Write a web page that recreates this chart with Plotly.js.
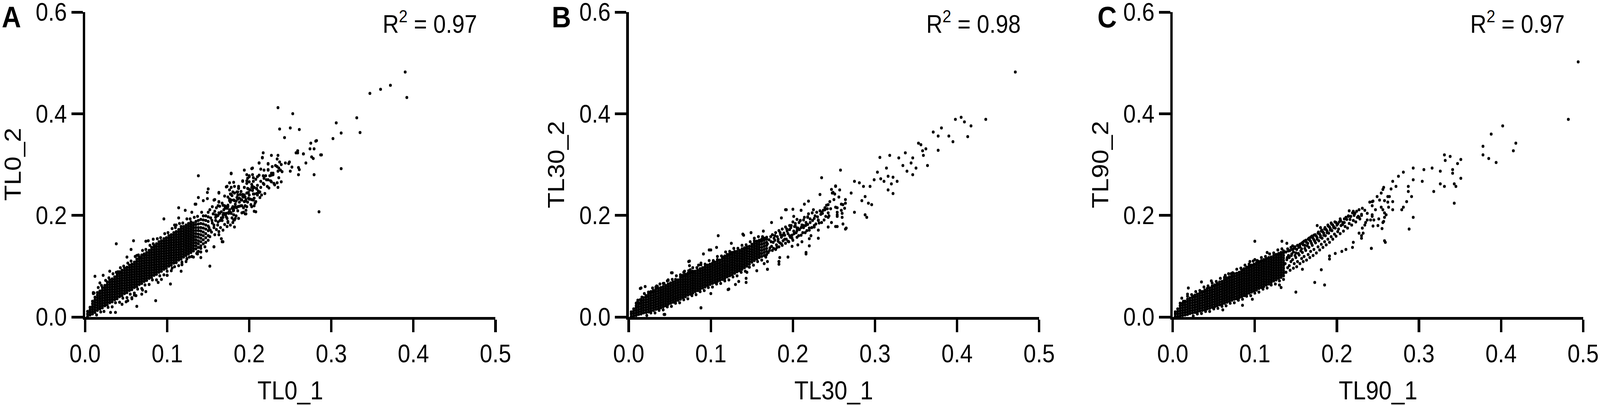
<!DOCTYPE html>
<html>
<head>
<meta charset="utf-8">
<script src="https://cdn.plot.ly/plotly-3.0.1.min.js"></script>
<style>html,body{margin:0;padding:0;background:#fff;overflow:hidden;}#chart{width:4550px;height:1040px;transform-origin:0 0;}</style>
</head>
<body>
<div id="chart"></div>
<script>
// ---------------- Panel A : TL0_1 vs TL0_2 ----------------
// dense core, read column by column (x = TL0_1, y lists = TL0_2)
const tl0_1_cols = [0.003,0.006,0.009,0.012,0.015,0.018,0.021,0.024,0.027,0.030,
0.033,0.036,0.039,0.042,0.045,0.048,0.051,0.054,0.057,0.060,
0.063,0.066,0.069,0.072,0.075,0.078,0.081,0.084,0.087,0.090,
0.093,0.096,0.099,0.102,0.105,0.108,0.111,0.114,0.117,0.120,
0.123,0.126,0.129,0.132,0.135,0.138,0.141,0.144,0.147,0.150];
const tl0_2_cols = [
[0.001,0.006,0.011],
[0.004,0.009,0.014,0.019],
[0.006,0.011,0.016,0.021,0.026,0.031],
[0.009,0.014,0.019,0.024,0.029,0.034,0.039],
[0.013,0.018,0.023,0.028,0.033,0.038,0.043,0.048],
[0.016,0.021,0.026,0.031,0.036,0.041,0.046,0.051],
[0.018,0.023,0.028,0.033,0.038,0.043,0.048,0.053,0.058],
[0.022,0.027,0.032,0.037,0.042,0.047,0.052,0.057,0.062],
[0.024,0.029,0.034,0.039,0.044,0.049,0.054,0.059,0.064,0.069],
[0.028,0.033,0.038,0.043,0.048,0.053,0.058,0.063,0.068,0.073],
[0.030,0.035,0.040,0.045,0.050,0.055,0.060,0.065,0.070,0.075],
[0.034,0.039,0.044,0.049,0.054,0.059,0.064,0.069,0.074,0.079],
[0.036,0.041,0.046,0.051,0.056,0.061,0.066,0.071,0.076,0.081,0.085],
[0.040,0.045,0.050,0.055,0.060,0.065,0.070,0.075,0.080,0.085,0.089],
[0.042,0.047,0.052,0.057,0.062,0.067,0.072,0.077,0.082,0.087,0.092],
[0.046,0.051,0.056,0.061,0.066,0.071,0.076,0.081,0.086,0.091,0.096],
[0.048,0.053,0.058,0.063,0.068,0.073,0.078,0.083,0.088,0.093,0.098],
[0.052,0.057,0.062,0.067,0.072,0.077,0.082,0.087,0.092,0.097,0.102],
[0.054,0.059,0.064,0.069,0.074,0.079,0.084,0.089,0.094,0.099,0.104],
[0.058,0.063,0.068,0.073,0.078,0.083,0.088,0.093,0.098,0.103,0.108],
[0.060,0.065,0.070,0.075,0.080,0.085,0.090,0.095,0.100,0.105,0.110,0.114],
[0.064,0.069,0.074,0.079,0.084,0.089,0.094,0.099,0.104,0.109,0.114,0.118],
[0.066,0.071,0.076,0.081,0.086,0.091,0.096,0.101,0.106,0.111,0.116,0.121],
[0.070,0.075,0.080,0.085,0.090,0.095,0.100,0.105,0.110,0.115,0.120,0.124],
[0.072,0.077,0.082,0.087,0.092,0.097,0.102,0.107,0.112,0.117,0.122,0.127],
[0.076,0.081,0.086,0.091,0.096,0.101,0.106,0.111,0.116,0.121,0.126,0.131],
[0.078,0.083,0.088,0.093,0.098,0.103,0.108,0.113,0.118,0.123,0.128,0.133,0.137],
[0.082,0.087,0.092,0.097,0.102,0.107,0.112,0.117,0.122,0.127,0.132,0.137,0.141],
[0.084,0.089,0.094,0.099,0.104,0.109,0.114,0.119,0.124,0.129,0.134,0.139,0.144],
[0.088,0.093,0.098,0.103,0.108,0.113,0.118,0.123,0.128,0.133,0.138,0.143,0.148],
[0.090,0.095,0.100,0.105,0.110,0.115,0.120,0.125,0.130,0.135,0.140,0.145,0.150],
[0.094,0.099,0.104,0.109,0.114,0.119,0.124,0.129,0.134,0.139,0.144,0.149,0.154],
[0.096,0.101,0.106,0.111,0.116,0.121,0.126,0.131,0.136,0.141,0.146,0.151,0.156],
[0.100,0.105,0.110,0.115,0.120,0.125,0.130,0.135,0.140,0.145,0.150,0.155,0.160],
[0.102,0.107,0.112,0.117,0.122,0.127,0.132,0.137,0.142,0.147,0.152,0.157,0.162],
[0.106,0.111,0.116,0.121,0.126,0.131,0.136,0.141,0.146,0.151,0.156,0.161,0.166],
[0.108,0.113,0.118,0.123,0.128,0.133,0.138,0.143,0.148,0.153,0.158,0.163,0.168],
[0.112,0.117,0.122,0.127,0.132,0.137,0.142,0.147,0.152,0.157,0.162,0.167,0.172],
[0.114,0.119,0.124,0.129,0.134,0.139,0.144,0.149,0.154,0.159,0.164,0.169,0.174,0.178],
[0.118,0.123,0.128,0.133,0.138,0.143,0.148,0.153,0.158,0.163,0.168,0.173,0.178],
[0.121,0.126,0.131,0.136,0.141,0.146,0.151,0.156,0.161,0.166,0.171,0.176,0.181],
[0.124,0.129,0.134,0.139,0.144,0.149,0.154,0.159,0.164,0.169,0.174,0.179,0.184],
[0.127,0.132,0.137,0.142,0.147,0.152,0.157,0.162,0.167,0.172,0.177,0.182,0.187],
[0.130,0.135,0.140,0.145,0.150,0.155,0.160,0.165,0.170,0.175,0.180,0.185],
[0.134,0.140,0.146,0.152,0.158,0.164,0.170,0.176,0.182,0.188],
[0.137,0.144,0.150,0.157,0.163,0.170,0.176,0.183,0.190],
[0.140,0.148,0.155,0.162,0.169,0.176,0.184,0.192],
[0.144,0.152,0.160,0.167,0.175,0.183,0.191,0.199],
[0.147,0.156,0.164,0.173,0.181,0.190,0.199],
[0.151,0.160,0.170,0.179,0.188,0.197,0.206]];
// looser middle of the cloud (paired points)
const tl0_1_mid = [0.152,0.154,0.151,0.155,0.153,0.156,0.152,0.158,0.160,0.157,0.159,0.161,0.158,0.160,0.163,0.165,0.162,0.166,0.163,0.164,
0.167,0.168,0.170,0.167,0.171,0.169,0.170,0.173,0.174,0.172,0.175,0.173,0.176,0.174,0.177,0.179,0.178,0.180,0.177,0.179,
0.182,0.184,0.181,0.183,0.185,0.182,0.187,0.186,0.188,0.186,0.189,0.187,0.191,0.193,0.190,0.192,0.194,0.196,0.198,0.195,
0.199,0.197,0.202,0.201,0.204,0.203,0.207,0.209,0.206,0.208,0.213,0.211,0.214,0.212,0.219,0.217,0.220,0.224,0.226,0.223,
0.231,0.229,0.232,0.236,0.238];
const tl0_2_mid = [0.158,0.167,0.176,0.185,0.195,0.203,0.211,0.162,0.172,0.181,0.190,0.199,0.208,0.215,0.168,0.176,0.187,0.195,0.205,0.218,
0.224,0.171,0.182,0.190,0.201,0.211,0.219,0.178,0.186,0.197,0.206,0.214,0.229,0.236,0.181,0.195,0.204,0.217,0.226,0.239,
0.191,0.199,0.213,0.222,0.235,0.244,0.194,0.209,0.218,0.233,0.241,0.257,0.205,0.215,0.231,0.241,0.255,0.210,0.226,0.236,
0.252,0.263,0.221,0.232,0.249,0.261,0.224,0.243,0.255,0.271,0.235,0.248,0.267,0.279,0.243,0.263,0.278,0.254,0.268,0.289,
0.260,0.283,0.298,0.274,0.289];
// fringe of the cloud and extra middle points (paired)
const tl0_1_edge = [0.011,0.016,0.020,0.025,0.029,0.034,0.038,0.043,0.047,0.052,0.056,0.061,0.065,0.070,0.074,0.079,0.083,0.088,0.092,0.097,
0.101,0.106,0.110,0.115,0.119,0.124,0.128,0.133,0.137,0.142,
0.014,0.019,0.023,0.028,0.033,0.037,0.042,0.046,0.051,0.055,0.060,0.064,0.069,0.073,0.078,0.082,0.087,0.091,0.096,0.100,
0.105,0.109,0.114,0.118,0.123,0.127,0.132,0.137,0.141,0.146,
0.1525,0.1545,0.157,0.159,0.1615,0.162,0.1645,0.166,0.168,0.1705,0.172,0.174,0.176,0.178,0.1805,0.182,0.1845,0.186,0.188,0.190,
0.193,0.195,0.197,0.200,0.203,0.206,0.210,0.214,0.221,0.227];
const tl0_2_edge = [0.047,0.058,0.062,0.072,0.077,0.085,0.088,0.097,0.100,0.106,0.110,0.119,0.122,0.131,0.133,0.141,0.144,0.154,0.156,0.164,
0.166,0.174,0.176,0.184,0.185,0.193,0.193,0.196,0.198,0.206,
0.004,0.010,0.011,0.019,0.020,0.028,0.029,0.037,0.038,0.045,0.047,0.055,0.056,0.063,0.064,0.073,0.073,0.081,0.083,0.090,
0.091,0.099,0.101,0.108,0.109,0.118,0.118,0.128,0.128,0.138,
0.171,0.190,0.176,0.196,0.181,0.200,0.190,0.207,0.196,0.214,0.204,0.220,0.211,0.230,0.209,0.229,0.215,0.240,0.226,0.247,
0.236,0.219,0.244,0.240,0.255,0.234,0.259,0.255,0.270,0.279];
// single readable points
const tl0_1_pts = [0.390,0.372,0.360,0.347,0.392,0.331,0.335,0.306,0.312,0.302,0.312,0.285,0.235,0.253,0.237,0.250,0.261,0.243,0.282,0.275,
0.274,0.279,0.288,0.276,0.278,0.269,0.259,0.259,0.266,0.279,0.261,0.260,0.250,0.252,0.244,0.249,0.217,0.216,0.227,0.235,
0.234,0.237,0.239,0.212,0.223,0.228,0.234,0.214,0.218,0.223,0.236,0.235,0.240,0.227,0.229,0.225,0.217,0.218,0.223,0.227,
0.230,0.234,0.218,0.222,0.235,0.239,0.210,0.194,0.203,0.178,0.197,0.200,0.204,0.192,0.198,0.200,0.205,0.176,0.181,0.173,
0.178,0.182,0.187,0.194,0.198,0.204,0.209,0.163,0.170,0.177,0.180,0.186,0.194,0.199,0.205,0.210,0.215,0.213,0.176,0.181,
0.186,0.191,0.195,0.200,0.205,0.157,0.163,0.155,0.162,0.168,0.174,0.179,0.186,0.191,0.197,0.206,0.208,0.195,0.181,0.175,
0.168,0.164,0.159,0.173,0.181,0.138,0.178,0.212,0.216,0.223,0.204,0.200,0.205,0.192,0.197,0.172,0.163,0.150,0.149,0.149,
0.138,0.144,0.135,0.158,0.163,0.176,0.178,0.187,0.185,0.192,0.196,0.205,0.209,0.212,0.201,0.206,0.199,0.203,0.208,0.206,
0.203,0.194,0.190,0.196,0.193,0.183,0.181,0.177,0.183,0.182,0.180,0.174,0.169,0.172,0.184,0.188,0.168,0.166,0.163,0.157,
0.152,0.148,0.141,0.138,0.137,0.141,0.130,0.124,0.118,0.117,0.104,0.100,0.086,0.063,0.031,0.037,0.074,0.069,0.060,0.057,
0.052,0.038,0.012,0.022,0.030,0.010,0.018,0.040,0.051,0.056,0.059,0.074,0.077,0.083,0.063,0.069,0.096,0.109,0.111,0.114,
0.122,0.114,0.130,0.134,0.010,0.100,0.157,0.148,0.167,0.136,0.130,0.124,0.111,0.118,0.106,0.089,0.093,0.070,0.062,0.057,
0.050,0.045,0.248,0.260,0.287,0.281,0.257,0.266];
const tl0_2_pts = [0.482,0.456,0.448,0.440,0.432,0.392,0.363,0.382,0.362,0.351,0.292,0.207,0.412,0.400,0.370,0.372,0.369,0.353,0.347,0.342,
0.331,0.331,0.319,0.315,0.312,0.303,0.327,0.323,0.321,0.280,0.290,0.280,0.287,0.295,0.303,0.305,0.323,0.314,0.318,0.318,
0.311,0.305,0.300,0.303,0.301,0.296,0.296,0.291,0.289,0.290,0.293,0.287,0.286,0.283,0.280,0.278,0.278,0.273,0.270,0.266,
0.263,0.264,0.261,0.257,0.255,0.266,0.276,0.289,0.292,0.283,0.280,0.276,0.280,0.268,0.273,0.266,0.267,0.264,0.265,0.257,
0.255,0.257,0.253,0.255,0.253,0.257,0.253,0.245,0.238,0.242,0.246,0.246,0.240,0.245,0.242,0.240,0.240,0.246,0.232,0.230,
0.232,0.230,0.228,0.232,0.230,0.230,0.227,0.217,0.219,0.220,0.217,0.214,0.217,0.219,0.217,0.219,0.207,0.203,0.201,0.204,
0.201,0.204,0.201,0.194,0.191,0.278,0.282,0.303,0.313,0.302,0.293,0.278,0.274,0.267,0.268,0.256,0.244,0.252,0.245,0.233,
0.235,0.229,0.222,0.231,0.226,0.250,0.241,0.254,0.246,0.237,0.231,0.254,0.252,0.245,0.250,0.242,0.234,0.231,0.227,0.208,
0.217,0.227,0.219,0.203,0.206,0.217,0.210,0.206,0.194,0.177,0.186,0.188,0.204,0.217,0.228,0.234,0.148,0.154,0.162,0.138,
0.100,0.130,0.135,0.129,0.124,0.117,0.119,0.114,0.103,0.090,0.065,0.082,0.032,0.021,0.009,0.009,0.050,0.045,0.043,0.038,
0.032,0.144,0.080,0.082,0.090,0.048,0.067,0.089,0.118,0.133,0.150,0.149,0.150,0.153,0.121,0.122,0.193,0.181,0.181,0.215,
0.210,0.195,0.206,0.222,0.046,0.082,0.138,0.130,0.148,0.125,0.119,0.115,0.107,0.104,0.096,0.068,0.074,0.053,0.042,0.036,
0.030,0.025,0.302,0.294,0.319,0.346,0.323,0.321];

// ---------------- Panel B : TL30_1 vs TL30_2 ----------------
const tl30_1_cols = [0.003,0.006,0.009,0.012,0.015,0.018,0.021,0.024,0.027,0.030,
0.033,0.036,0.039,0.042,0.045,0.048,0.051,0.054,0.057,0.060,
0.063,0.066,0.069,0.072,0.075,0.078,0.081,0.084,0.087,0.090,
0.093,0.096,0.099,0.102,0.105,0.108,0.111,0.114,0.117,0.120,
0.123,0.126,0.129,0.132,0.135,0.138,0.141,0.144,0.147,0.150,
0.153,0.156,0.159,0.162,0.165,0.168];
const tl30_2_cols = [
[0.001,0.006,0.010],
[0.002,0.007,0.012,0.016],
[0.003,0.008,0.013,0.018,0.022],
[0.005,0.010,0.015,0.020,0.025,0.028],
[0.006,0.011,0.016,0.021,0.026,0.031,0.034],
[0.008,0.013,0.018,0.023,0.028,0.033,0.038],
[0.009,0.014,0.019,0.024,0.029,0.034,0.039,0.042],
[0.010,0.015,0.020,0.025,0.030,0.035,0.040,0.045],
[0.012,0.017,0.022,0.027,0.032,0.037,0.042,0.047,0.050],
[0.013,0.018,0.023,0.028,0.033,0.038,0.043,0.048,0.052],
[0.015,0.020,0.025,0.030,0.035,0.040,0.045,0.050,0.055],
[0.016,0.021,0.026,0.031,0.036,0.041,0.046,0.051,0.056],
[0.018,0.023,0.028,0.033,0.038,0.043,0.048,0.053,0.058],
[0.020,0.025,0.030,0.035,0.040,0.045,0.050,0.055,0.060],
[0.022,0.027,0.032,0.037,0.042,0.047,0.052,0.057,0.062],
[0.025,0.030,0.035,0.040,0.045,0.050,0.055,0.060,0.065],
[0.027,0.032,0.037,0.042,0.047,0.052,0.057,0.062,0.067],
[0.029,0.034,0.039,0.044,0.049,0.054,0.059,0.064,0.069],
[0.031,0.036,0.041,0.046,0.051,0.056,0.061,0.066,0.071,0.074],
[0.033,0.038,0.043,0.048,0.053,0.058,0.063,0.068,0.073],
[0.035,0.040,0.045,0.050,0.055,0.060,0.065,0.070,0.075,0.079],
[0.038,0.043,0.048,0.053,0.058,0.063,0.068,0.073,0.078,0.082],
[0.040,0.045,0.050,0.055,0.060,0.065,0.070,0.075,0.080,0.084],
[0.043,0.048,0.053,0.058,0.063,0.068,0.073,0.078,0.083,0.086],
[0.045,0.050,0.055,0.060,0.065,0.070,0.075,0.080,0.085,0.088],
[0.047,0.052,0.057,0.062,0.067,0.072,0.077,0.082,0.087,0.090],
[0.050,0.055,0.060,0.065,0.070,0.075,0.080,0.085,0.090],
[0.052,0.057,0.062,0.067,0.072,0.077,0.082,0.087,0.092],
[0.055,0.060,0.065,0.070,0.075,0.080,0.085,0.090,0.095],
[0.057,0.062,0.067,0.072,0.077,0.082,0.087,0.092,0.097],
[0.059,0.064,0.069,0.074,0.079,0.084,0.089,0.094,0.099],
[0.062,0.067,0.072,0.077,0.082,0.087,0.092,0.097,0.102],
[0.064,0.069,0.074,0.079,0.084,0.089,0.094,0.099,0.104],
[0.066,0.071,0.076,0.081,0.086,0.091,0.096,0.101,0.106],
[0.068,0.073,0.078,0.083,0.088,0.093,0.098,0.103,0.108],
[0.070,0.075,0.080,0.085,0.090,0.095,0.100,0.105,0.110,0.113],
[0.072,0.077,0.082,0.087,0.092,0.097,0.102,0.107,0.112],
[0.074,0.079,0.084,0.089,0.094,0.099,0.104,0.109,0.114,0.118],
[0.076,0.081,0.086,0.091,0.096,0.101,0.106,0.111,0.116,0.120],
[0.079,0.084,0.089,0.094,0.099,0.104,0.109,0.114,0.119,0.123],
[0.081,0.086,0.091,0.096,0.101,0.106,0.111,0.116,0.121,0.125],
[0.083,0.088,0.093,0.098,0.103,0.108,0.113,0.118,0.123,0.127],
[0.086,0.091,0.096,0.101,0.106,0.111,0.116,0.121,0.126,0.129],
[0.089,0.094,0.099,0.104,0.109,0.114,0.119,0.124,0.129],
[0.091,0.096,0.101,0.106,0.111,0.116,0.121,0.126,0.131],
[0.094,0.099,0.104,0.109,0.114,0.119,0.124,0.129,0.134],
[0.097,0.102,0.107,0.112,0.117,0.122,0.127,0.132,0.136],
[0.100,0.105,0.110,0.115,0.120,0.125,0.130,0.135,0.138],
[0.104,0.109,0.114,0.119,0.124,0.129,0.134,0.139],
[0.108,0.113,0.118,0.123,0.128,0.133,0.138,0.143],
[0.111,0.116,0.121,0.126,0.131,0.136,0.141,0.146],
[0.114,0.119,0.124,0.129,0.134,0.139,0.144,0.149],
[0.117,0.122,0.127,0.132,0.137,0.142,0.147,0.151],
[0.119,0.125,0.131,0.137,0.143,0.149,0.153],
[0.121,0.127,0.133,0.139,0.145,0.151,0.155],
[0.123,0.129,0.135,0.141,0.147,0.153,0.157]];
const tl30_1_mid = [0.170,0.172,0.169,0.171,0.173,0.175,0.174,0.176,0.177,0.175,0.179,0.180,0.178,0.181,0.179,0.183,0.184,0.182,0.185,0.183,
0.187,0.188,0.186,0.189,0.187,0.191,0.192,0.190,0.193,0.191,0.195,0.197,0.194,0.196,0.198,0.200,0.199,0.201,0.202,0.200,
0.205,0.204,0.206,0.203,0.205,0.210,0.208,0.211,0.209,0.215,0.213,0.216,0.214,0.220,0.218,0.221,0.219,0.226,0.224,0.227,
0.225,0.232,0.230,0.233,0.238,0.236,0.239,0.244,0.242,0.245];
const tl30_2_mid = [0.127,0.136,0.144,0.152,0.158,0.131,0.139,0.147,0.155,0.162,0.133,0.142,0.151,0.158,0.166,0.138,0.146,0.153,0.162,0.170,
0.141,0.150,0.157,0.165,0.173,0.145,0.153,0.161,0.169,0.177,0.148,0.157,0.164,0.172,0.180,0.151,0.161,0.169,0.178,0.187,
0.157,0.166,0.175,0.184,0.192,0.161,0.172,0.181,0.190,0.166,0.176,0.186,0.196,0.171,0.182,0.193,0.203,0.177,0.190,0.199,
0.211,0.185,0.197,0.209,0.191,0.204,0.215,0.199,0.213,0.227];
const tl30_1_edge = [0.010,0.014,0.019,0.024,0.029,0.033,0.038,0.043,0.048,0.053,0.058,0.063,0.068,0.073,0.078,0.083,0.088,0.093,0.098,0.103,
0.108,0.113,0.118,0.123,0.128,0.133,0.138,0.143,0.148,0.153,0.158,0.163,
0.022,0.027,0.032,0.037,0.042,0.047,0.052,0.057,0.062,0.067,0.072,0.077,0.082,0.087,0.092,0.097,0.102,0.107,0.112,0.117,
0.122,0.127,0.132,0.137,0.142,0.147,0.152,0.157,0.162,0.167,
0.1715,0.1735,0.1765,0.178,0.1805,0.182,0.1845,0.186,0.188,0.190,0.1925,0.194,0.196,0.1975,0.199,0.2015,0.203,0.205,0.207,0.2075,
0.210,0.212,0.213,0.2155,0.217,0.218,0.221,0.223,0.2235,0.226,0.228,0.229,0.231,0.234,0.235,0.237,0.240,0.241,0.243,0.246];
const tl30_2_edge = [0.028,0.034,0.046,0.049,0.057,0.059,0.065,0.066,0.073,0.074,0.081,0.083,0.090,0.091,0.097,0.097,0.103,0.104,0.111,0.111,
0.119,0.120,0.128,0.129,0.135,0.135,0.141,0.142,0.148,0.150,0.158,0.158,
0.003,0.008,0.008,0.013,0.014,0.020,0.021,0.027,0.028,0.034,0.036,0.042,0.044,0.050,0.052,0.058,0.059,0.065,0.066,0.071,
0.073,0.079,0.081,0.088,0.090,0.098,0.102,0.109,0.112,0.118,
0.131,0.148,0.135,0.160,0.137,0.149,0.166,0.144,0.161,0.153,0.173,0.149,0.160,0.176,0.155,0.164,0.179,0.170,0.160,0.186,
0.176,0.166,0.191,0.180,0.170,0.197,0.186,0.176,0.205,0.194,0.183,0.206,0.191,0.202,0.186,0.210,0.198,0.220,0.205,0.213];
const tl30_1_pts = [0.471,0.435,0.398,0.405,0.409,0.417,0.413,0.395,0.381,0.371,0.377,0.390,0.377,0.353,0.356,0.362,0.358,0.364,0.359,0.306,
0.318,0.329,0.337,0.346,0.344,0.350,0.339,0.346,0.334,0.303,0.314,0.316,0.322,0.311,0.320,0.327,0.316,0.322,0.307,0.299,
0.294,0.288,0.292,0.284,0.275,0.281,0.286,0.271,0.264,0.261,0.275,0.296,0.288,0.290,0.235,0.258,0.252,0.248,0.250,0.256,
0.243,0.252,0.263,0.254,0.265,0.252,0.243,0.239,0.235,0.231,0.226,0.220,0.231,0.213,0.218,0.192,0.201,0.209,0.205,0.196,
0.216,0.183,0.169,0.143,0.122,0.088,0.043,0.109,0.139,0.052,0.015,0.098,0.073,0.047,0.034,0.140,0.149,0.191,0.200,0.210,
0.214,0.219,0.252,0.247,0.233,0.174,0.186,0.164,0.153,0.125,0.107,0.100,0.091,0.074,0.074,0.075,0.085,0.088,0.067,0.053,
0.048,0.042,0.035,0.027,0.020,0.014,0.016,0.011,0.009,0.088,0.044,0.121,0.100,0.130,0.134,0.143,0.144,0.156,0.169,0.165,
0.169,0.183,0.183,0.184,0.194,0.199,0.206,0.211,0.216,0.220,0.231,0.220,0.222,0.243,0.247,0.254,0.261,0.264,0.260,0.260,
0.259,0.254,0.254,0.259,0.264,0.254,0.251,0.249,0.257];
const tl30_2_pts = [0.482,0.389,0.389,0.393,0.384,0.376,0.355,0.345,0.372,0.364,0.356,0.356,0.328,0.342,0.339,0.331,0.327,0.298,0.318,0.314,
0.318,0.313,0.323,0.313,0.303,0.293,0.287,0.280,0.298,0.285,0.293,0.277,0.275,0.267,0.262,0.267,0.250,0.243,0.272,0.270,
0.257,0.237,0.224,0.229,0.267,0.264,0.257,0.244,0.231,0.221,0.206,0.221,0.201,0.196,0.274,0.289,0.257,0.244,0.231,0.236,
0.221,0.216,0.214,0.201,0.175,0.178,0.196,0.211,0.206,0.190,0.180,0.175,0.171,0.180,0.196,0.211,0.198,0.190,0.175,0.180,
0.127,0.109,0.094,0.068,0.055,0.018,0.005,0.160,0.163,0.087,0.057,0.132,0.109,0.071,0.061,0.161,0.166,0.211,0.212,0.210,
0.222,0.228,0.258,0.251,0.241,0.186,0.195,0.169,0.155,0.145,0.137,0.132,0.124,0.110,0.101,0.093,0.102,0.106,0.088,0.087,
0.072,0.066,0.060,0.048,0.060,0.056,0.039,0.033,0.027,0.018,0.005,0.054,0.046,0.064,0.070,0.076,0.088,0.091,0.094,0.105,
0.109,0.104,0.109,0.117,0.118,0.139,0.142,0.148,0.124,0.140,0.155,0.154,0.160,0.177,0.186,0.178,0.183,0.173,0.196,0.204,
0.210,0.206,0.198,0.222,0.224,0.215,0.242,0.245,0.250];

// ---------------- Panel C : TL90_1 vs TL90_2 ----------------
const tl90_1_cols = [0.003,0.006,0.009,0.012,0.015,0.018,0.021,0.024,0.027,0.030,
0.033,0.036,0.039,0.042,0.045,0.048,0.051,0.054,0.057,0.060,
0.063,0.066,0.069,0.072,0.075,0.078,0.081,0.084,0.087,0.090,
0.093,0.096,0.099,0.102,0.105,0.108,0.111,0.114,0.117,0.120,
0.123,0.126,0.129,0.132,0.135];
const tl90_2_cols = [
[0.001,0.006,0.010],
[0.001,0.006,0.011,0.016],
[0.002,0.007,0.012,0.017,0.022],
[0.003,0.008,0.013,0.018,0.023,0.027],
[0.004,0.009,0.014,0.019,0.024,0.029,0.031],
[0.005,0.010,0.015,0.020,0.025,0.030,0.035],
[0.007,0.012,0.017,0.022,0.027,0.032,0.037],
[0.008,0.013,0.018,0.023,0.028,0.033,0.038,0.041],
[0.009,0.014,0.019,0.024,0.029,0.034,0.039,0.043],
[0.010,0.015,0.020,0.025,0.030,0.035,0.040,0.045],
[0.012,0.017,0.022,0.027,0.032,0.037,0.042,0.047],
[0.013,0.018,0.023,0.028,0.033,0.038,0.043,0.048,0.050],
[0.014,0.019,0.024,0.029,0.034,0.039,0.044,0.049,0.053],
[0.016,0.021,0.026,0.031,0.036,0.041,0.046,0.051,0.056],
[0.017,0.022,0.027,0.032,0.037,0.042,0.047,0.052,0.057],
[0.019,0.024,0.029,0.034,0.039,0.044,0.049,0.054,0.059,0.061],
[0.020,0.025,0.030,0.035,0.040,0.045,0.050,0.055,0.060,0.063],
[0.022,0.027,0.032,0.037,0.042,0.047,0.052,0.057,0.062,0.066],
[0.024,0.029,0.034,0.039,0.044,0.049,0.054,0.059,0.064,0.069],
[0.025,0.030,0.035,0.040,0.045,0.050,0.055,0.060,0.065,0.070],
[0.027,0.032,0.037,0.042,0.047,0.052,0.057,0.062,0.067,0.072,0.074],
[0.029,0.034,0.039,0.044,0.049,0.054,0.059,0.064,0.069,0.074,0.077],
[0.031,0.036,0.041,0.046,0.051,0.056,0.061,0.066,0.071,0.076,0.079],
[0.033,0.038,0.043,0.048,0.053,0.058,0.063,0.068,0.073,0.078,0.082],
[0.035,0.040,0.045,0.050,0.055,0.060,0.065,0.070,0.075,0.080,0.085],
[0.036,0.041,0.046,0.051,0.056,0.061,0.066,0.071,0.076,0.081,0.086],
[0.038,0.043,0.048,0.053,0.058,0.063,0.068,0.073,0.078,0.083,0.088],
[0.040,0.045,0.050,0.055,0.060,0.065,0.070,0.075,0.080,0.085,0.090,0.093],
[0.042,0.047,0.052,0.057,0.062,0.067,0.072,0.077,0.082,0.087,0.092,0.095],
[0.045,0.050,0.055,0.060,0.065,0.070,0.075,0.080,0.085,0.090,0.095,0.098],
[0.047,0.052,0.057,0.062,0.067,0.072,0.077,0.082,0.087,0.092,0.097,0.100],
[0.049,0.054,0.059,0.064,0.069,0.074,0.079,0.084,0.089,0.094,0.099,0.102],
[0.051,0.056,0.061,0.066,0.071,0.076,0.081,0.086,0.091,0.096,0.101,0.104],
[0.053,0.058,0.063,0.068,0.073,0.078,0.083,0.088,0.093,0.098,0.103,0.107],
[0.056,0.061,0.066,0.071,0.076,0.081,0.086,0.091,0.096,0.101,0.106,0.109],
[0.058,0.063,0.068,0.073,0.078,0.083,0.088,0.093,0.098,0.103,0.108,0.111],
[0.060,0.065,0.070,0.075,0.080,0.085,0.090,0.095,0.100,0.105,0.110,0.113],
[0.063,0.068,0.073,0.078,0.083,0.088,0.093,0.098,0.103,0.108,0.113,0.115],
[0.065,0.070,0.075,0.080,0.085,0.090,0.095,0.100,0.105,0.110,0.115,0.117],
[0.068,0.073,0.078,0.083,0.088,0.093,0.098,0.103,0.108,0.113,0.118],
[0.071,0.076,0.081,0.086,0.091,0.096,0.101,0.106,0.111,0.116,0.121],
[0.073,0.078,0.083,0.088,0.093,0.098,0.103,0.108,0.113,0.118,0.123],
[0.076,0.081,0.086,0.091,0.096,0.101,0.106,0.111,0.116,0.121,0.125],
[0.078,0.083,0.088,0.093,0.098,0.103,0.108,0.113,0.118,0.123,0.127],
[0.081,0.086,0.091,0.096,0.101,0.106,0.111,0.116,0.121,0.126,0.130]];
const tl90_1_mid = [0.138,0.140,0.137,0.139,0.141,0.138,0.140,0.143,0.142,0.144,0.142,0.145,0.143,0.144,0.147,0.148,0.146,0.149,0.147,0.148,
0.146,0.151,0.152,0.150,0.153,0.151,0.152,0.155,0.157,0.154,0.156,0.155,0.157,0.159,0.160,0.158,0.161,0.159,0.160,0.163,
0.165,0.162,0.164,0.163,0.165,0.167,0.168,0.166,0.169,0.167,0.168,0.171,0.172,0.170,0.173,0.171,0.172,0.175,0.177,0.174,
0.176,0.175,0.177,0.179,0.181,0.178,0.180,0.179,0.181,0.183,0.185,0.182,0.184,0.183,0.185,0.187,0.189,0.186,0.188,0.187,
0.191,0.193,0.190,0.192,0.191,0.195,0.197,0.194,0.196,0.195,0.199,0.201,0.198,0.200,0.199,0.204,0.202,0.205,0.203,0.208,
0.210,0.207,0.209,0.213,0.215,0.212,0.214,0.218,0.220,0.217,0.219,0.223,0.225,0.222,0.228,0.230,0.227];
const tl90_2_mid = [0.088,0.097,0.105,0.113,0.121,0.128,0.134,0.092,0.101,0.109,0.117,0.124,0.131,0.137,0.096,0.105,0.113,0.121,0.128,0.135,
0.140,0.099,0.109,0.117,0.125,0.133,0.141,0.105,0.115,0.122,0.130,0.138,0.145,0.109,0.119,0.127,0.135,0.142,0.149,0.112,
0.123,0.131,0.140,0.147,0.153,0.117,0.129,0.137,0.145,0.151,0.157,0.121,0.133,0.141,0.149,0.155,0.161,0.126,0.138,0.146,
0.153,0.159,0.165,0.132,0.143,0.150,0.157,0.163,0.169,0.137,0.148,0.155,0.161,0.167,0.173,0.142,0.153,0.160,0.166,0.172,
0.147,0.158,0.165,0.171,0.177,0.153,0.163,0.170,0.176,0.181,0.159,0.168,0.175,0.181,0.186,0.164,0.173,0.180,0.187,0.169,
0.178,0.186,0.193,0.175,0.184,0.192,0.199,0.181,0.190,0.198,0.205,0.187,0.196,0.204,0.193,0.202,0.211];
const tl90_1_edge = [0.009,0.013,0.018,0.023,0.028,0.033,0.038,0.043,0.048,0.053,0.058,0.063,0.068,0.073,0.078,0.083,0.088,0.093,0.098,0.103,
0.108,0.113,0.118,0.123,0.128,0.133,
0.025,0.030,0.035,0.040,0.045,0.050,0.055,0.060,0.065,0.070,0.075,0.080,0.085,0.090,0.095,0.100,0.105,0.110,0.115,0.120,
0.125,0.130,0.135,
0.1395,0.141,0.1445,0.146,0.149,0.150,0.1535,0.155,0.157,0.1585,0.161,0.162,0.1645,0.166,0.168,0.1695,0.172,0.1735,0.176,0.1775,
0.180,0.1815,0.184,0.1855,0.188,0.1895,0.192,0.1935,0.196,0.1975,0.201,0.2045,0.207,0.211,0.216,0.221];
const tl90_2_edge = [0.027,0.031,0.041,0.044,0.050,0.052,0.059,0.061,0.067,0.070,0.076,0.078,0.085,0.087,0.094,0.096,0.102,0.104,0.110,0.111,
0.117,0.119,0.124,0.126,0.132,0.134,
0.002,0.006,0.007,0.011,0.011,0.016,0.017,0.021,0.022,0.027,0.028,0.033,0.035,0.041,0.042,0.047,0.049,0.055,0.057,0.063,
0.065,0.071,0.074,
0.117,0.130,0.121,0.133,0.138,0.126,0.137,0.143,0.134,0.147,0.141,0.151,0.145,0.155,0.149,0.159,0.152,0.162,0.156,0.167,
0.160,0.171,0.165,0.176,0.169,0.179,0.174,0.183,0.178,0.187,0.183,0.190,0.182,0.196,0.192,0.200];
const tl90_1_pts = [0.494,0.482,0.402,0.388,0.418,0.415,0.378,0.378,0.385,0.394,0.331,0.338,0.332,0.351,0.347,0.316,0.326,0.341,0.341,0.351,
0.331,0.343,0.345,0.306,0.304,0.293,0.287,0.318,0.326,0.293,0.343,0.281,0.275,0.293,0.288,0.258,0.242,0.287,0.291,0.285,
0.281,0.279,0.268,0.266,0.272,0.262,0.268,0.254,0.258,0.254,0.243,0.247,0.268,0.260,0.256,0.243,0.235,0.231,0.227,0.250,
0.237,0.227,0.100,0.133,0.139,0.115,0.083,0.064,0.071,0.047,0.035,0.019,0.018,0.011,0.094,0.100,0.061,0.085,0.097,0.150,
0.173,0.185,0.132,0.130,0.158,0.181,0.191,0.191,0.198,0.206,0.211,0.219,0.220,0.230,0.230,0.232,0.242,0.259,0.255,0.257,
0.258,0.257,0.256,0.249,0.252,0.240,0.244,0.243,0.231,0.234,0.215,0.220,0.224,0.214,0.226,0.230,0.204,0.209,0.193,0.189,
0.176,0.180,0.243,0.245,0.241,0.251,0.237,0.234,0.244,0.264,0.263,0.256,0.258,0.262];
const tl90_2_pts = [0.502,0.389,0.376,0.360,0.342,0.327,0.336,0.319,0.312,0.304,0.319,0.316,0.308,0.310,0.302,0.293,0.287,0.290,0.283,0.273,
0.257,0.262,0.257,0.290,0.267,0.270,0.257,0.247,0.262,0.293,0.224,0.285,0.277,0.196,0.173,0.150,0.135,0.247,0.237,0.227,
0.216,0.211,0.267,0.252,0.257,0.237,0.227,0.244,0.229,0.216,0.227,0.211,0.211,0.201,0.186,0.198,0.186,0.175,0.165,0.180,
0.204,0.196,0.149,0.149,0.145,0.127,0.096,0.082,0.085,0.071,0.069,0.057,0.045,0.037,0.109,0.113,0.014,0.023,0.035,0.049,
0.068,0.063,0.058,0.063,0.094,0.093,0.114,0.120,0.125,0.129,0.133,0.137,0.147,0.155,0.160,0.165,0.135,0.147,0.174,0.188,
0.196,0.255,0.251,0.237,0.230,0.226,0.228,0.219,0.214,0.210,0.209,0.208,0.208,0.198,0.198,0.200,0.193,0.186,0.185,0.181,
0.180,0.176,0.201,0.191,0.191,0.193,0.191,0.181,0.179,0.237,0.216,0.211,0.205,0.226];

// ---------------- labels ----------------
const xTitles = ['TL0_1','TL30_1','TL90_1'];
const yTitles = ['TL0_2','TL30_2','TL90_2'];
const rsq = ['0.97','0.98','0.97'];
const panelLetters = ['A','B','C'];
const xTickVals = [0,0.1,0.2,0.3,0.4,0.5];
const yTickVals = [0,0.2,0.4,0.6];

// ---------------- build ----------------
function gather(colsX, colsY, sets){
  const x=[], y=[];
  for(let i=0;i<colsX.length;i++){ (colsY[i]||[]).forEach(v=>{x.push(colsX[i]); y.push(v);}); }
  sets.forEach(([ax,ay])=>{ const n=Math.min(ax.length, ay.length); for(let i=0;i<n;i++){x.push(ax[i]); y.push(ay[i]);} });
  return {x,y};
}
const panels = [
  gather(tl0_1_cols, tl0_2_cols, [[tl0_1_mid, tl0_2_mid],[tl0_1_edge, tl0_2_edge],[tl0_1_pts, tl0_2_pts]]),
  gather(tl30_1_cols, tl30_2_cols, [[tl30_1_mid, tl30_2_mid],[tl30_1_edge, tl30_2_edge],[tl30_1_pts, tl30_2_pts]]),
  gather(tl90_1_cols, tl90_2_cols, [[tl90_1_mid, tl90_2_mid],[tl90_1_edge, tl90_2_edge],[tl90_1_pts, tl90_2_pts]])
];

const W=4550, H=1040;
const FONT = 'Liberation Sans, Arial, Helvetica, sans-serif';
const xLeft = [242, 1788, 3335];
const plotW = 1167;
const yTop = 31, yBot = 812;
const px = v => v / W, py = v => 1 - v / H;

const data = [], layout = {
  width: W, height: H, margin:{l:0,r:0,t:0,b:0,pad:0},
  paper_bgcolor:'#fff', plot_bgcolor:'#fff', showlegend:false,
  font:{family:FONT, color:'#000'}, annotations:[]
};
panels.forEach((p,i)=>{
  const sfx = i===0 ? '' : String(i+1);
  data.push({type:'scatter', mode:'markers', x:p.x, y:p.y,
    xaxis:'x'+sfx, yaxis:'y'+sfx, cliponaxis:false, hoverinfo:'skip',
    marker:{size:8, color:'#000', line:{width:0}}});
  const common = {showline:true, linewidth:7, linecolor:'#000', ticks:'outside', ticklen:32, tickwidth:7,
    tickcolor:'#000', showgrid:false, zeroline:false, tickformat:'.1f', ticklabeloverflow:'allow',
    tickfont:{family:FONT, size:64, color:'#000'}, fixedrange:true};
  layout['xaxis'+sfx] = Object.assign({}, common, {
    domain:[px(xLeft[i]), px(xLeft[i]+plotW)], range:[0,0.5], tickvals:xTickVals, anchor:'y'+sfx});
  layout['yaxis'+sfx] = Object.assign({}, common, {
    domain:[py(yBot), py(yTop)], range:[0,0.6], tickvals:yTickVals, anchor:'x'+sfx});
  const titleFont = {family:FONT, size:66, color:'#000'};
  // axis titles
  layout.annotations.push({xref:'paper', yref:'paper', x:px(xLeft[i]+plotW/2), y:py(1000), xanchor:'center', yanchor:'middle',
    text:xTitles[i], showarrow:false, borderpad:0, font:titleFont});
  layout.annotations.push({xref:'paper', yref:'paper', x:px(xLeft[i]-207), y:py((yTop+yBot)/2), xanchor:'center', yanchor:'middle',
    textangle:-90, text:yTitles[i], showarrow:false, borderpad:0, font:titleFont});
  // R squared
  layout.annotations.push({xref:'x'+sfx, yref:'y'+sfx, x:0.4786, y:0.580, xanchor:'right', yanchor:'middle',
    text:'R<sup>2</sup> = '+rsq[i], showarrow:false, font:{family:FONT, size:64, color:'#000'}});
  // panel letter
  const lx = [4, 1568, 3120][i];
  layout.annotations.push({xref:'paper', yref:'paper', x:px(lx), y:1, xanchor:'left', yanchor:'top',
    text:'<b>'+panelLetters[i]+'</b>', showarrow:false, borderpad:0, font:{family:FONT, size:76, color:'#000'}});
});
const gd = document.getElementById('chart');
// the window can be narrower than the 4550x1040 design: map the design onto the visible window
function fitToWindow(){
  const vw = window.innerWidth || W, vh = window.innerHeight || H;
  const sx = vw / W, sy = vh / H;
  gd.style.transform = (Math.abs(sx-1) > 1e-3 || Math.abs(sy-1) > 1e-3) ? 'scale(' + sx + ',' + sy + ')' : '';
}
Plotly.newPlot(gd, data, layout, {displayModeBar:false, staticPlot:true}).then(fitToWindow);
</script>
</body>
</html>
